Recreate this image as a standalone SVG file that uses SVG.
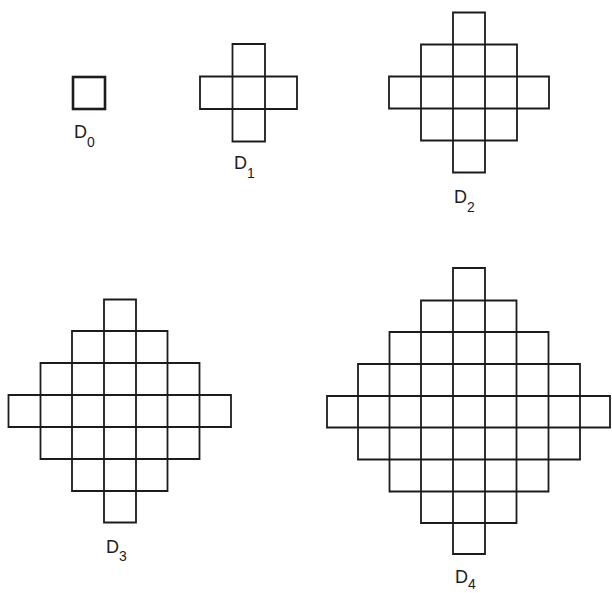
<svg xmlns="http://www.w3.org/2000/svg" width="612" height="593" viewBox="0 0 612 593">
<style>
.g{fill:none;stroke:#1c1c1c;stroke-width:1.8;stroke-linecap:square}
.t{font-family:"Liberation Sans",Arial,sans-serif;font-size:18px;fill:#1c1c1c}
.s{font-size:14px}
</style>
<rect width="612" height="593" fill="#fff"/>
<g id="D0">
<rect x="73" y="77" width="32" height="32" fill="none" stroke="#1c1c1c" stroke-width="2.6"/>
<text class="t" x="74" y="138">D<tspan class="s" dy="9">0</tspan></text>
</g>
<g id="D1">
<path class="g" d="M232.5 44H265M200 76.5H297M200 109H297M232.5 141.5H265M200 76.5V109M232.5 44V141.5M265 44V141.5M297 76.5V109"/>
<text class="t" x="234" y="169">D<tspan class="s" dy="9">1</tspan></text>
</g>
<g id="D2">
<path class="g" d="M453 12.5H485M421 44.5H517M389 76.5H549M389 108.5H549M421 140.5H517M453 172.5H485M389 76.5V108.5M421 44.5V140.5M453 12.5V172.5M485 12.5V172.5M517 44.5V140.5M549 76.5V108.5"/>
<text class="t" x="454" y="203">D<tspan class="s" dy="9">2</tspan></text>
</g>
<g id="D3">
<path class="g" d="M104 299.5H136M72 331H167.5M40.5 363H199.5M8.5 395H231M8.5 427H231M40.5 459H199.5M72 491H167.5M104 522.5H136M8.5 395V427M40.5 363V459M72 331V491M104 299.5V522.5M136 299.5V522.5M167.5 331V491M199.5 363V459M231 395V427"/>
<text class="t" x="106" y="553">D<tspan class="s" dy="8">3</tspan></text>
</g>
<g id="D4">
<path class="g" d="M453 268H485M421 300.5H516.5M389.5 332H548.5M358 364H580M327 396H610M327 427.5H610M358 459.5H580M389.5 491.5H548.5M421 523H516.5M453 554H485M327 396V427.5M358 364V459.5M389.5 332V491.5M421 300.5V523M453 268V554M485 268V554M516.5 300.5V523M548.5 332V491.5M580 364V459.5M610 396V427.5"/>
<text class="t" x="455" y="583">D<tspan class="s" dy="6">4</tspan></text>
</g>
<g id="connectors"/>
</svg>
